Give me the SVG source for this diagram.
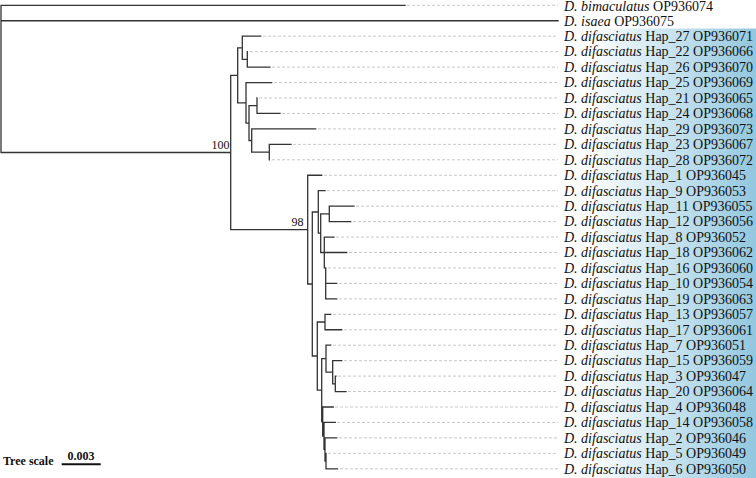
<svg xmlns="http://www.w3.org/2000/svg" width="756" height="478" viewBox="0 0 756 478">
<defs>
<linearGradient id="bg" x1="0" y1="0" x2="1" y2="0">
<stop offset="0" stop-color="#ffffff"/>
<stop offset="0.12" stop-color="#ffffff"/>
<stop offset="1" stop-color="#92c7df"/>
</linearGradient>
<style>
.br{fill:none;stroke:#333;stroke-width:1.3;stroke-linecap:square}
.dl{fill:none;stroke:#c8c8c8;stroke-width:1;stroke-dasharray:3,2}
.lb{font-family:"Liberation Serif","Times New Roman",serif;font-size:14px;fill:#111}
.it{font-style:italic}
.bs{font-family:"Liberation Serif","Times New Roman",serif;font-size:12px;fill:#111}
.ts{font-family:"Liberation Serif","Times New Roman",serif;font-size:12px;font-weight:bold;fill:#111}
</style>
</defs>
<rect width="756" height="478" fill="#ffffff"/>
<rect x="563" y="28.5" width="193" height="449.5" fill="url(#bg)"/>
<g id="connectors">
<path class="br" d="M1,5.3V152.5M1,5.3H405M1,20.75H558M1,152.5H230.7
M230.7,75.3V229.6M230.7,75.3H237.7M230.7,229.6H307.7
M237.7,47.8V102.8M237.7,47.8H242.3M237.7,102.8H246
M242.3,36.2V59.4M242.3,36.2H260.7M242.3,59.4H247.3
M247.3,51.65V67.1M247.3,67.1H270
M246,82.55V123.1M246,82.55H271.7M246,123.1H249
M249,105.7V140.5M249,105.7H257M249,140.5H251.7
M257,98V113.45M257,113.45H280
M251.7,128.9V152.1M251.7,128.9H315.7M251.7,152.1H269.3
M269.3,144.35V159.8M269.3,144.35H291
M307.7,175.25V284M307.7,175.25H321.7M307.7,284H312.3
M312.3,212V356M312.3,212H318.3M312.3,356H317.3
M318.3,190.7V233.2M318.3,190.7H325M318.3,233.2H320.7
M320.7,213.9V252.5M320.7,213.9H329.3M320.7,252.5H324.3
M329.3,206.15V221.6M329.3,206.15H354M329.3,221.6H350.7
M324.3,237.05V267.95M324.3,237.05H334M324.3,252.5H346.7M324.3,267.95H325.7
M325.7,267.95V298.85M325.7,283.4H336.7M325.7,298.85H336.7
M317.3,322V390.1M317.3,322H325M317.3,390.1H321.7
M325,314.3V329.75M325,314.3H330.7M325,329.75H341.7
M321.7,358.7V421.5M321.7,358.7H326M321.7,421.5H322.7
M326,345.2V372.2M326,345.2H330.7M326,372.2H332.7
M332.7,360.65V383.8M332.7,360.65H341.7M332.7,383.8H335.3
M335.3,376.1V391.55M335.3,376.1H336M335.3,391.55H346
M322.7,407V436M322.7,407H333.3M322.7,436H324
M324,422.45V449.5M324,422.45H335.3M324,449.5H325
M325,437.9V461.1M325,437.9H336.7M325,461.1H326
M326,453.35V468.8M326,468.8H337.5"/>
</g>
<g id="support">
<text class="bs" x="229.5" y="148.5" text-anchor="end">100</text>
<text class="bs" x="303.5" y="226" text-anchor="end">98</text>
</g>
<g id="leaf-bimaculatus"><path class="dl" d="M407,5.3H558"/><text class="lb" x="564" y="10.6"><tspan class="it">D. bimaculatus</tspan> OP936074</text></g>
<g id="leaf-isaea"><text class="lb" x="564" y="25.55"><tspan class="it">D. isaea</tspan> OP936075</text></g>
<g id="leaf-hap27"><path class="dl" d="M263,36.2H558"/><text class="lb" x="564" y="41"><tspan class="it">D. difasciatus</tspan> Hap_27 OP936071</text></g>
<g id="leaf-hap22"><path class="dl" d="M250,51.65H558"/><text class="lb" x="564" y="56.45"><tspan class="it">D. difasciatus</tspan> Hap_22 OP936066</text></g>
<g id="leaf-hap26"><path class="dl" d="M272,67.1H558"/><text class="lb" x="564" y="71.9"><tspan class="it">D. difasciatus</tspan> Hap_26 OP936070</text></g>
<g id="leaf-hap25"><path class="dl" d="M274,82.55H558"/><text class="lb" x="564" y="87.35"><tspan class="it">D. difasciatus</tspan> Hap_25 OP936069</text></g>
<g id="leaf-hap21"><path class="dl" d="M259,98H558"/><text class="lb" x="564" y="102.8"><tspan class="it">D. difasciatus</tspan> Hap_21 OP936065</text></g>
<g id="leaf-hap24"><path class="dl" d="M282,113.45H558"/><text class="lb" x="564" y="118.25"><tspan class="it">D. difasciatus</tspan> Hap_24 OP936068</text></g>
<g id="leaf-hap29"><path class="dl" d="M318,128.9H558"/><text class="lb" x="564" y="133.7"><tspan class="it">D. difasciatus</tspan> Hap_29 OP936073</text></g>
<g id="leaf-hap23"><path class="dl" d="M293,144.35H558"/><text class="lb" x="564" y="149.15"><tspan class="it">D. difasciatus</tspan> Hap_23 OP936067</text></g>
<g id="leaf-hap28"><path class="dl" d="M272,159.8H558"/><text class="lb" x="564" y="164.6"><tspan class="it">D. difasciatus</tspan> Hap_28 OP936072</text></g>
<g id="leaf-hap1"><path class="dl" d="M324,175.25H558"/><text class="lb" x="564" y="180.05"><tspan class="it">D. difasciatus</tspan> Hap_1 OP936045</text></g>
<g id="leaf-hap9"><path class="dl" d="M327,190.7H558"/><text class="lb" x="564" y="195.5"><tspan class="it">D. difasciatus</tspan> Hap_9 OP936053</text></g>
<g id="leaf-hap11"><path class="dl" d="M356,206.15H558"/><text class="lb" x="564" y="210.95"><tspan class="it">D. difasciatus</tspan> Hap_11 OP936055</text></g>
<g id="leaf-hap12"><path class="dl" d="M353,221.6H558"/><text class="lb" x="564" y="226.4"><tspan class="it">D. difasciatus</tspan> Hap_12 OP936056</text></g>
<g id="leaf-hap8"><path class="dl" d="M336,237.05H558"/><text class="lb" x="564" y="241.85"><tspan class="it">D. difasciatus</tspan> Hap_8 OP936052</text></g>
<g id="leaf-hap18"><path class="dl" d="M349,252.5H558"/><text class="lb" x="564" y="257.3"><tspan class="it">D. difasciatus</tspan> Hap_18 OP936062</text></g>
<g id="leaf-hap16"><path class="dl" d="M328,267.95H558"/><text class="lb" x="564" y="272.75"><tspan class="it">D. difasciatus</tspan> Hap_16 OP936060</text></g>
<g id="leaf-hap10"><path class="dl" d="M339,283.4H558"/><text class="lb" x="564" y="288.2"><tspan class="it">D. difasciatus</tspan> Hap_10 OP936054</text></g>
<g id="leaf-hap19"><path class="dl" d="M339,298.85H558"/><text class="lb" x="564" y="303.65"><tspan class="it">D. difasciatus</tspan> Hap_19 OP936063</text></g>
<g id="leaf-hap13"><path class="dl" d="M333,314.3H558"/><text class="lb" x="564" y="319.1"><tspan class="it">D. difasciatus</tspan> Hap_13 OP936057</text></g>
<g id="leaf-hap17"><path class="dl" d="M344,329.75H558"/><text class="lb" x="564" y="334.55"><tspan class="it">D. difasciatus</tspan> Hap_17 OP936061</text></g>
<g id="leaf-hap7"><path class="dl" d="M333,345.2H558"/><text class="lb" x="564" y="350"><tspan class="it">D. difasciatus</tspan> Hap_7 OP936051</text></g>
<g id="leaf-hap15"><path class="dl" d="M344,360.65H558"/><text class="lb" x="564" y="365.45"><tspan class="it">D. difasciatus</tspan> Hap_15 OP936059</text></g>
<g id="leaf-hap3"><path class="dl" d="M338,376.1H558"/><text class="lb" x="564" y="380.9"><tspan class="it">D. difasciatus</tspan> Hap_3 OP936047</text></g>
<g id="leaf-hap20"><path class="dl" d="M348,391.55H558"/><text class="lb" x="564" y="396.35"><tspan class="it">D. difasciatus</tspan> Hap_20 OP936064</text></g>
<g id="leaf-hap4"><path class="dl" d="M335,407H558"/><text class="lb" x="564" y="411.8"><tspan class="it">D. difasciatus</tspan> Hap_4 OP936048</text></g>
<g id="leaf-hap14"><path class="dl" d="M337,422.45H558"/><text class="lb" x="564" y="427.25"><tspan class="it">D. difasciatus</tspan> Hap_14 OP936058</text></g>
<g id="leaf-hap2"><path class="dl" d="M339,437.9H558"/><text class="lb" x="564" y="442.7"><tspan class="it">D. difasciatus</tspan> Hap_2 OP936046</text></g>
<g id="leaf-hap5"><path class="dl" d="M328,453.35H558"/><text class="lb" x="564" y="458.15"><tspan class="it">D. difasciatus</tspan> Hap_5 OP936049</text></g>
<g id="leaf-hap6"><path class="dl" d="M340,468.8H558"/><text class="lb" x="564" y="473.6"><tspan class="it">D. difasciatus</tspan> Hap_6 OP936050</text></g>
<g id="scale">
<text class="ts" x="3" y="465">Tree scale</text>
<text class="ts" x="81" y="460" text-anchor="middle">0.003</text>
<path d="M61.7,464.3H100.7" stroke="#111" stroke-width="2" fill="none"/>
</g>
</svg>
